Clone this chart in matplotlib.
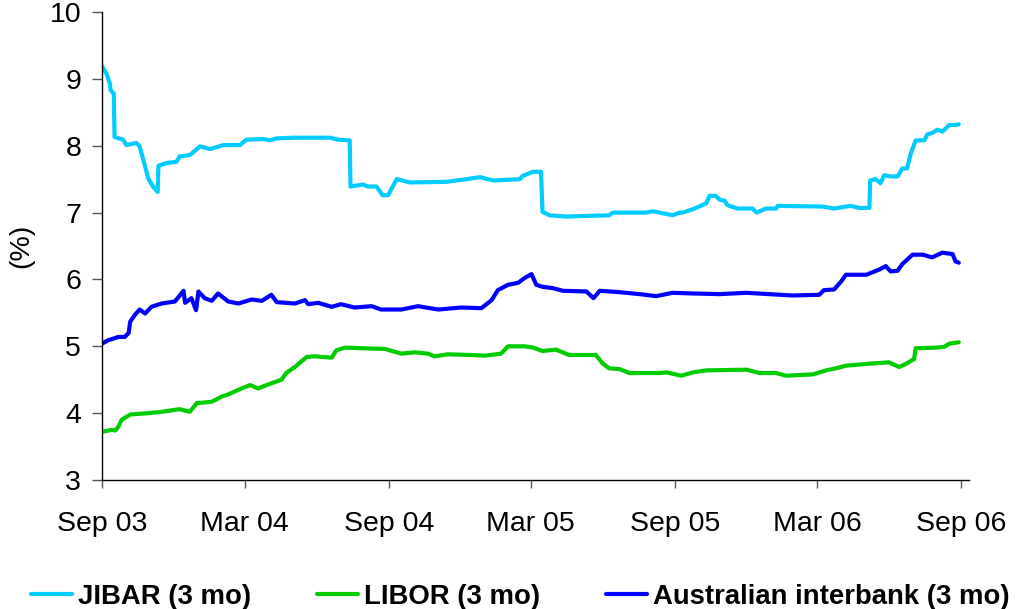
import matplotlib
matplotlib.use("Agg")
import matplotlib.pyplot as plt
import pandas as pd

plt.rcParams["font.family"] = ["Liberation Sans", "DejaVu Sans"]

# 3-month money-market rates (%), Sep 2003 - Sep 2006
jibar_dates = [
    "2003-09-01", "2003-09-07", "2003-09-11", "2003-09-12", "2003-09-16", "2003-09-17",
    "2003-09-28", "2003-10-02", "2003-10-15", "2003-10-19", "2003-10-26", "2003-10-30",
    "2003-11-05", "2003-11-11", "2003-11-12", "2003-11-22", "2003-12-05", "2003-12-09",
    "2003-12-22", "2004-01-04", "2004-01-17", "2004-02-03", "2004-02-24", "2004-03-03",
    "2004-03-25", "2004-04-02", "2004-04-11", "2004-05-02", "2004-06-18", "2004-06-28",
    "2004-07-13", "2004-07-14", "2004-07-30", "2004-08-05", "2004-08-16", "2004-08-24",
    "2004-08-31", "2004-09-11", "2004-09-28", "2004-11-13", "2004-12-09", "2004-12-26",
    "2005-01-12", "2005-02-15", "2005-02-19", "2005-03-04", "2005-03-14", "2005-03-16",
    "2005-03-25", "2005-04-15", "2005-06-09", "2005-06-14", "2005-07-26", "2005-08-04",
    "2005-08-16", "2005-08-29", "2005-09-07", "2005-09-11", "2005-09-26", "2005-10-11",
    "2005-10-15", "2005-10-23", "2005-10-28", "2005-11-03", "2005-11-07", "2005-11-20",
    "2005-12-09", "2005-12-14", "2005-12-26", "2006-01-08", "2006-01-10", "2006-03-08",
    "2006-03-23", "2006-04-13", "2006-04-24", "2006-05-07", "2006-05-08", "2006-05-15",
    "2006-05-21", "2006-05-26", "2006-06-03", "2006-06-12", "2006-06-18", "2006-06-24",
    "2006-06-29", "2006-07-05", "2006-07-16", "2006-07-20", "2006-07-26", "2006-08-02",
    "2006-08-08", "2006-08-17", "2006-08-25", "2006-08-29",
]
jibar = [
    9.19, 9.07, 8.93, 8.83, 8.78, 8.13,
    8.09, 8.01, 8.04, 7.99, 7.69, 7.51,
    7.39, 7.31, 7.70, 7.74, 7.76, 7.84,
    7.86, 7.99, 7.95, 8.01, 8.01, 8.09,
    8.10, 8.08, 8.11, 8.12, 8.12, 8.09,
    8.08, 7.39, 7.42, 7.39, 7.39, 7.26,
    7.26, 7.50, 7.45, 7.46, 7.50, 7.53,
    7.48, 7.50, 7.55, 7.61, 7.61, 7.01,
    6.96, 6.94, 6.96, 7.00, 7.00, 7.02,
    6.99, 6.96, 7.00, 7.00, 7.06, 7.14,
    7.25, 7.25, 7.19, 7.18, 7.11, 7.06,
    7.06, 7.00, 7.06, 7.06, 7.10, 7.09,
    7.06, 7.10, 7.07, 7.07, 7.48, 7.50,
    7.44, 7.56, 7.54, 7.54, 7.66, 7.66,
    7.89, 8.08, 8.08, 8.17, 8.19, 8.24,
    8.21, 8.31, 8.31, 8.32,
]

libor_dates = [
    "2003-09-01", "2003-09-13", "2003-09-18", "2003-09-22", "2003-09-26", "2003-10-07",
    "2003-10-30", "2003-11-16", "2003-12-09", "2003-12-22", "2003-12-31", "2004-01-19",
    "2004-02-01", "2004-02-09", "2004-02-26", "2004-03-08", "2004-03-18", "2004-03-29",
    "2004-04-17", "2004-04-23", "2004-05-04", "2004-05-19", "2004-05-29", "2004-06-20",
    "2004-06-26", "2004-07-07", "2004-08-01", "2004-08-27", "2004-09-17", "2004-10-04",
    "2004-10-21", "2004-10-29", "2004-11-15", "2004-12-15", "2005-01-01", "2005-01-22",
    "2005-01-31", "2005-02-21", "2005-03-04", "2005-03-16", "2005-04-02", "2005-04-19",
    "2005-05-23", "2005-06-01", "2005-06-09", "2005-06-22", "2005-07-05", "2005-08-12",
    "2005-08-21", "2005-09-09", "2005-09-24", "2005-10-11", "2005-12-01", "2005-12-18",
    "2006-01-08", "2006-01-21", "2006-02-24", "2006-03-13", "2006-03-25", "2006-04-07",
    "2006-05-07", "2006-06-01", "2006-06-14", "2006-06-23", "2006-07-03", "2006-07-05",
    "2006-07-31", "2006-08-10", "2006-08-17", "2006-08-29",
]
libor = [
    3.72, 3.75, 3.74, 3.80, 3.90, 3.98,
    4.00, 4.02, 4.06, 4.02, 4.15, 4.17,
    4.25, 4.28, 4.37, 4.42, 4.37, 4.42,
    4.50, 4.60, 4.69, 4.84, 4.85, 4.83,
    4.94, 4.98, 4.97, 4.96, 4.89, 4.91,
    4.89, 4.85, 4.88, 4.87, 4.86, 4.89,
    5.00, 5.00, 4.98, 4.93, 4.95, 4.87,
    4.87, 4.74, 4.67, 4.66, 4.60, 4.60,
    4.61, 4.56, 4.61, 4.64, 4.65, 4.60,
    4.60, 4.56, 4.58, 4.64, 4.67, 4.71,
    4.74, 4.76, 4.69, 4.74, 4.81, 4.97,
    4.98, 4.99, 5.04, 5.06,
]

aus_dates = [
    "2003-09-01", "2003-09-09", "2003-09-22", "2003-09-30", "2003-10-05", "2003-10-07",
    "2003-10-13", "2003-10-19", "2003-10-26", "2003-11-03", "2003-11-16", "2003-12-03",
    "2003-12-14", "2003-12-16", "2003-12-24", "2003-12-30", "2004-01-02", "2004-01-10",
    "2004-01-19", "2004-01-27", "2004-02-09", "2004-02-22", "2004-03-10", "2004-03-23",
    "2004-04-04", "2004-04-11", "2004-05-04", "2004-05-17", "2004-05-21", "2004-06-03",
    "2004-06-20", "2004-07-02", "2004-07-19", "2004-08-10", "2004-08-22", "2004-09-17",
    "2004-10-08", "2004-11-03", "2004-12-02", "2004-12-28", "2005-01-10", "2005-01-18",
    "2005-01-31", "2005-02-13", "2005-02-21", "2005-03-02", "2005-03-08", "2005-03-16",
    "2005-03-29", "2005-04-11", "2005-05-11", "2005-05-20", "2005-05-28", "2005-06-22",
    "2005-07-18", "2005-08-08", "2005-08-29", "2005-09-24", "2005-10-28", "2005-12-01",
    "2005-12-30", "2006-01-29", "2006-03-04", "2006-03-10", "2006-03-23", "2006-04-01",
    "2006-04-07", "2006-05-03", "2006-05-20", "2006-05-28", "2006-06-03", "2006-06-12",
    "2006-06-18", "2006-07-01", "2006-07-14", "2006-07-26", "2006-08-08", "2006-08-21",
    "2006-08-25", "2006-08-29",
]
aus = [
    5.04, 5.09, 5.14, 5.14, 5.20, 5.37,
    5.47, 5.55, 5.49, 5.59, 5.64, 5.67,
    5.83, 5.65, 5.72, 5.54, 5.82, 5.72,
    5.68, 5.79, 5.67, 5.64, 5.70, 5.68,
    5.77, 5.66, 5.64, 5.69, 5.63, 5.65,
    5.59, 5.63, 5.58, 5.60, 5.55, 5.55,
    5.60, 5.55, 5.58, 5.57, 5.69, 5.84,
    5.92, 5.95, 6.02, 6.08, 5.92, 5.89,
    5.87, 5.83, 5.82, 5.72, 5.83, 5.81,
    5.78, 5.75, 5.80, 5.79, 5.78, 5.80,
    5.78, 5.76, 5.77, 5.84, 5.85, 5.97,
    6.07, 6.07, 6.15, 6.20, 6.12, 6.13,
    6.23, 6.37, 6.37, 6.33, 6.40, 6.38,
    6.27, 6.25,
]

series_labels = ["JIBAR (3 mo)", "LIBOR (3 mo)", "Australian interbank (3 mo)"]
series_colors = ["#00CCFF", "#00CC00", "#0000FF"]

tick_dates = ["2003-09-01", "2004-03-01", "2004-09-01", "2005-03-01",
              "2005-09-01", "2006-03-01", "2006-09-01"]
tick_labels = ["Sep 03", "Mar 04", "Sep 04", "Mar 05", "Sep 05", "Mar 06", "Sep 06"]
y_ticks = [3, 4, 5, 6, 7, 8, 9, 10]

fig = plt.figure(figsize=(10.16, 6.09), dpi=100)
ax = fig.add_axes([0.1004, 0.2118, 0.8533, 0.7685])

for d, v, lab, col in zip([jibar_dates, libor_dates, aus_dates],
                          [jibar, libor, aus], series_labels, series_colors):
    ax.plot(pd.to_datetime(d), v, color=col, lw=3.0, label=lab,
            solid_joinstyle="round", solid_capstyle="round")

ax.set_ylim(3, 10)
ax.set_yticks(y_ticks)
ax.set_xlim(pd.Timestamp("2003-09-01"), pd.Timestamp("2006-09-11"))
ax.set_xticks(pd.to_datetime(tick_dates))
ax.set_xticklabels(tick_labels)

for side in ("top", "right"):
    ax.spines[side].set_visible(False)
for side in ("left", "bottom"):
    ax.spines[side].set_color("#000000")
    ax.spines[side].set_linewidth(1.0)

ax.tick_params(axis="y", direction="out", length=7, width=1, color="#555555",
               labelsize=20.5, pad=8)
ax.tick_params(axis="x", direction="out", length=6, width=1, color="#555555",
               labelsize=20.5, pad=16)
ax.set_ylabel("(%)", fontsize=20.5, labelpad=11)

handles, labels = ax.get_legend_handles_labels()
fig.legend(handles, labels, loc="lower center", bbox_to_anchor=(0.512, -0.042),
           ncol=3, frameon=False, prop={"weight": "bold", "size": 19.8},
           handlelength=1.5, handletextpad=0.2, columnspacing=2.4)

fig.savefig("out.png", dpi=100)
